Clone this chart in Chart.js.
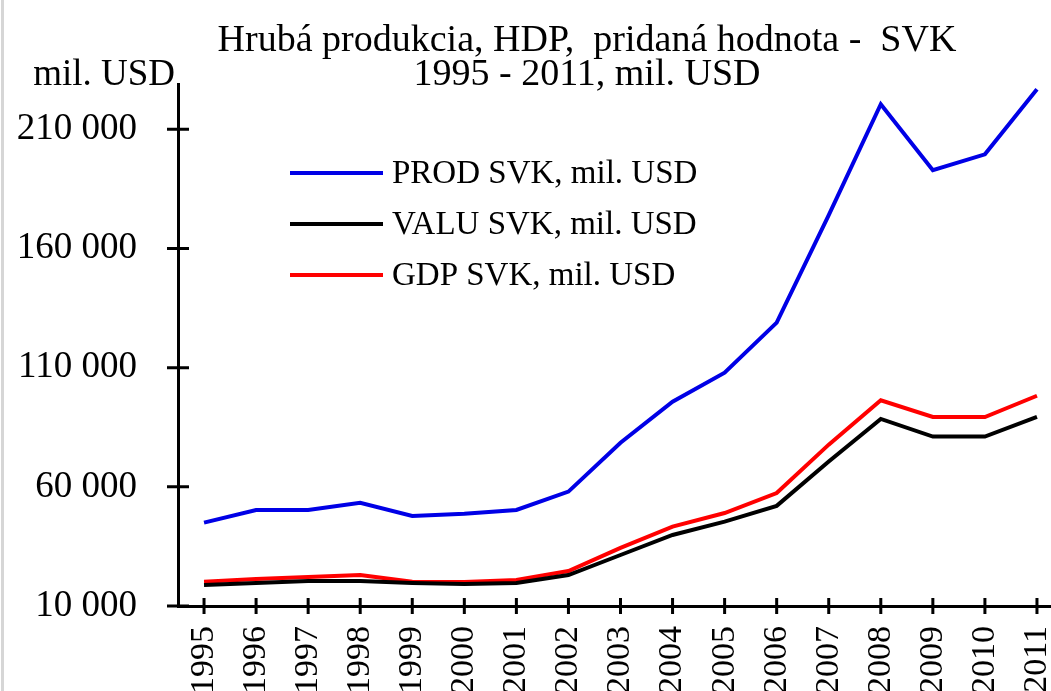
<!DOCTYPE html>
<html>
<head>
<meta charset="utf-8">
<script src="https://cdn.jsdelivr.net/npm/chart.js@4.4.1/dist/chart.umd.min.js"></script>
<style>
  html, body { margin: 0; padding: 0; background: #fff; overflow: hidden; }
  #wrap { position: relative; width: 1051px; height: 691px; overflow: hidden; }
  #edge { position: absolute; left: 1px; top: 0; width: 3px; height: 691px; background: #d6d6d6; }
  canvas { position: absolute; left: 0; top: 0; }
</style>
</head>
<body>
<div id="wrap">
  <canvas id="chart" width="1063" height="691"></canvas>
  <div id="edge"></div>
</div>
<script>
// years on the x axis
const years = ['1995','1996','1997','1998','1999','2000','2001','2002','2003',
               '2004','2005','2006','2007','2008','2009','2010','2011'];

// mil. USD
const prodSvk = [45000, 50300, 50300, 53300, 47800, 48700, 50300, 58000, 78500,
                 95700, 107900, 128900, 174000, 220500, 192800, 199500, 226800];
const valuSvk = [18800, 19700, 20500, 20500, 19700, 19200, 19700, 23000, 31400,
                 39800, 45400, 52000, 70600, 88500, 81100, 81100, 89300];
const gdpSvk  = [20200, 21300, 22200, 23000, 20200, 20100, 20900, 24700, 34400,
                 43300, 49000, 57400, 77700, 96300, 89300, 89300, 98200];

const yTicks = [10000, 60000, 110000, 160000, 210000];

const titleLines = ['Hrubá produkcia, HDP,  pridaná hodnota -  SVK', '1995 - 2011, mil. USD'];
const unitLabel = 'mil. USD';

const serif = "'Liberation Serif', 'Times New Roman', serif";

function fmt(v) {
  return String(v).replace(/\B(?=(\d{3})+(?!\d))/g, ' ');
}

// title, tick marks crossing the axes, legend in the plot, unit label
const extras = {
  id: 'extras',
  afterDraw(chart) {
    const ctx = chart.ctx;
    const area = chart.chartArea;
    const xs = chart.scales.x;
    const ys = chart.scales.y;
    ctx.save();
    ctx.strokeStyle = '#000';
    ctx.lineWidth = 3;
    ctx.beginPath();
    xs.ticks.forEach((t, i) => {
      const px = xs.getPixelForTick(i);
      ctx.moveTo(px, area.bottom - 8);
      ctx.lineTo(px, area.bottom + 8);
    });
    ys.ticks.forEach((t) => {
      const py = ys.getPixelForValue(t.value);
      ctx.moveTo(area.left - 11, py);
      ctx.lineTo(area.left + 11, py);
    });
    ctx.stroke();

    ctx.fillStyle = '#000';
    ctx.textBaseline = 'alphabetic';

    // title (the original sits left of the plot centre)
    ctx.font = '38px ' + serif;
    ctx.textAlign = 'center';
    ctx.fillText(titleLines[0], 587, 51);
    ctx.fillText(titleLines[1], 587, 85);

    // unit label above the y axis
    ctx.font = '37px ' + serif;
    ctx.textAlign = 'right';
    ctx.fillText(unitLabel, area.left - 3, area.top + 1);

    // legend
    ctx.font = '33px ' + serif;
    ctx.textAlign = 'left';
    ctx.textBaseline = 'middle';
    chart.data.datasets.forEach((ds, i) => {
      const y = 173 + i * 51;
      ctx.strokeStyle = ds.borderColor;
      ctx.lineWidth = 4;
      ctx.beginPath();
      ctx.moveTo(290, y);
      ctx.lineTo(383, y);
      ctx.stroke();
      ctx.fillText(ds.label, 392, y + 1);
    });
    ctx.restore();
  }
};

const ctx = document.getElementById('chart').getContext('2d');
const chart = new Chart(ctx, {
  type: 'line',
  data: {
    labels: years,
    datasets: [
      { label: 'PROD SVK, mil. USD', data: prodSvk, borderColor: '#0000e6' },
      { label: 'VALU SVK, mil. USD', data: valuSvk, borderColor: '#000000' },
      { label: 'GDP SVK, mil. USD',  data: gdpSvk,  borderColor: '#ff0000' }
    ]
  },
  options: {
    responsive: false,
    animation: false,
    layout: { padding: { left: 0, right: 0, top: 84, bottom: 0 } },
    elements: {
      line: { borderWidth: 4, tension: 0, fill: false },
      point: { radius: 0, hoverRadius: 0 }
    },
    plugins: {
      legend: { display: false },
      tooltip: { enabled: false },
      title: { display: false }
    },
    scales: {
      x: {
        offset: true,
        grid: { display: false },
        border: { display: true, color: '#000', width: 3 },
        ticks: {
          color: '#000',
          font: { family: serif, size: 34 },
          minRotation: 90,
          maxRotation: 90,
          padding: 12,
          autoSkip: false
        },
        afterFit(scale) {
          scale.height = 85;
          scale.paddingLeft = 0;
          scale.paddingRight = 0;
        }
      },
      y: {
        min: 10000,
        max: 229000,
        grid: { display: false },
        border: { display: true, color: '#000', width: 3 },
        afterBuildTicks(scale) { scale.ticks = yTicks.map(v => ({ value: v })); },
        ticks: {
          color: '#000',
          font: { family: serif, size: 37 },
          padding: 33,
          callback: (v) => fmt(v)
        },
        afterFit(scale) { scale.width = 178; }
      }
    }
  },
  plugins: [extras]
});
</script>
</body>
</html>
